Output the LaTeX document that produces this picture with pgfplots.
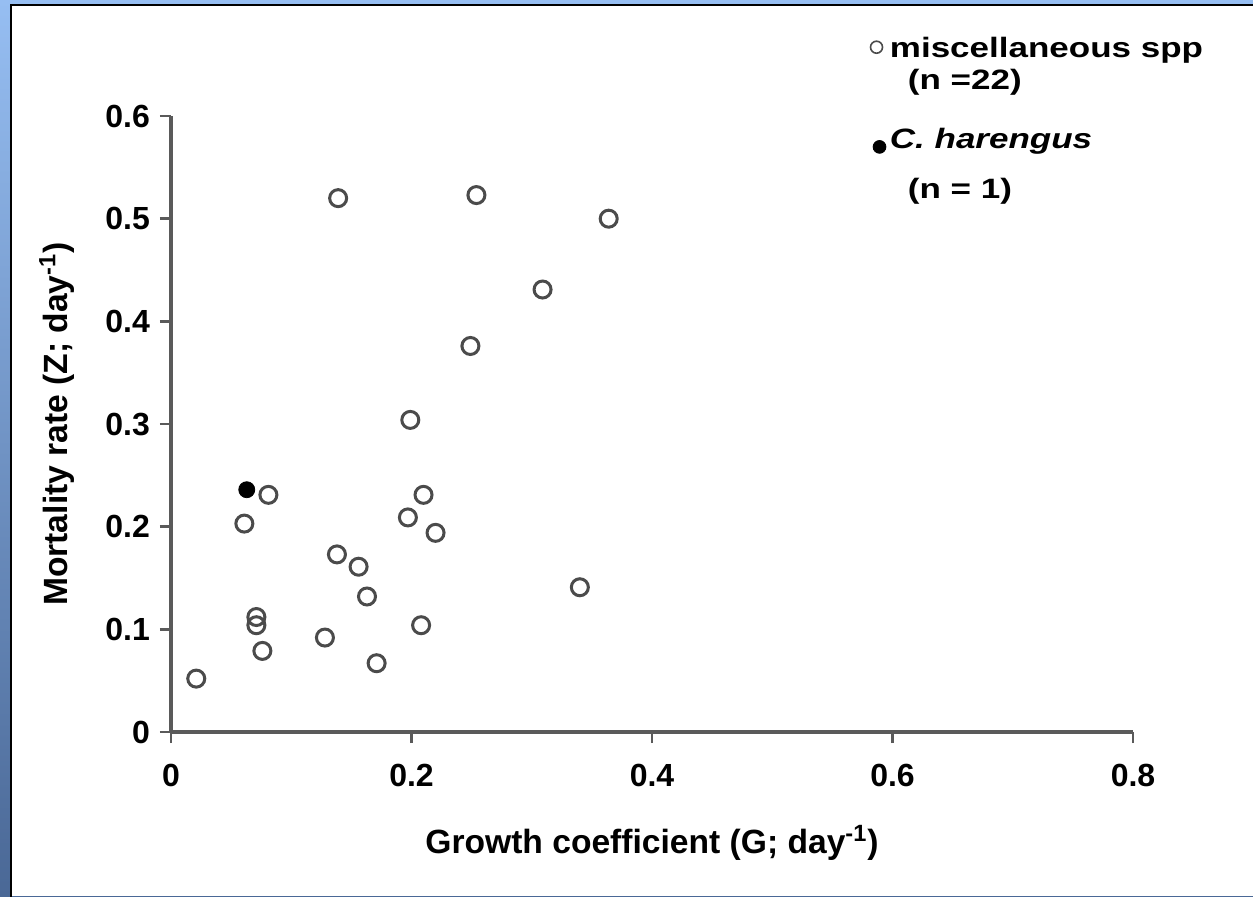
\documentclass[border=0pt]{standalone}
\usepackage{fontspec}
\setmainfont{Liberation Sans}
\newfontfamily\legfont{Liberation Sans}[FakeStretch=1.25]
\usepackage{pgfplots}
\pgfplotsset{compat=1.18}
\definecolor{axgray}{RGB}{90,90,90}
\definecolor{mkgray}{RGB}{75,75,75}
\definecolor{bluetop}{RGB}{150,190,242}
\definecolor{bluebot}{RGB}{74,104,150}
\begin{document}
\begin{tikzpicture}
\path[use as bounding box] (0pt,0pt) rectangle (626.5pt,448pt);
\shade[top color=bluetop, bottom color=bluebot] (0pt,0pt) rectangle (626.5pt,448pt);
\fill[white] (5.5pt,0pt) rectangle (626.5pt,445.5pt);
\draw[black, line width=1pt] (5.5pt,-1pt) -- (5.5pt,445.5pt) -- (627pt,445.5pt);
\begin{axis}[
  at={(85.5pt,82pt)}, anchor=south west,
  scale only axis, width=481pt, height=308pt,
  xmin=0, xmax=0.8, ymin=0, ymax=0.6,
  axis x line*=bottom, axis y line*=left,
  axis line style={axgray, line width=1.7pt},
  xtick={0,0.2,0.4,0.6,0.8},
  ytick={0,0.1,0.2,0.3,0.4,0.5,0.6},
  tick align=outside, major tick length=5.5pt,
  tick style={axgray, line width=1.2pt},
  /pgf/number format/.cd, fixed, precision=1, assume math mode=true, /pgfplots/.cd,
  every tick label/.append style={font=\bfseries\fontsize{16}{19}\selectfont},
  xticklabel style={yshift=-7pt},
  yticklabel style={xshift=-1.5pt},
  xlabel={Growth coefficient (G; day\textsuperscript{-1})},
  ylabel={Mortality rate (Z; day\textsuperscript{-1})},
  label style={font=\bfseries\fontsize{16.8}{19}\selectfont},
  xlabel style={at={(axis description cs:0.5,-0.180)}, anchor=center},
  ylabel style={at={(axis description cs:-0.1185,0.5)}, anchor=center},
  clip=false,
  legend style={at={(rel axis cs:0.7205,1.145)}, anchor=north west, draw=none, fill=none,
    font=\legfont\bfseries\fontsize{14}{16}\selectfont, cells={anchor=west}, row sep=20.5pt,
    /tikz/column 2/.style={column sep=8.5pt}},
]
\addplot[only marks, mark=o, mark size=4.25pt, mkgray, line width=1.5pt,
  legend image post style={mark size=3pt, line width=0.8pt, yshift=4.5pt}]
  table[row sep=\\]{
x y\\
0.021 0.052\\
0.061 0.203\\
0.081 0.231\\
0.071 0.112\\
0.071 0.104\\
0.076 0.079\\
0.128 0.092\\
0.138 0.173\\
0.156 0.161\\
0.163 0.132\\
0.171 0.067\\
0.139 0.520\\
0.197 0.209\\
0.210 0.231\\
0.220 0.194\\
0.208 0.104\\
0.199 0.304\\
0.249 0.376\\
0.254 0.523\\
0.309 0.431\\
0.340 0.141\\
0.364 0.500\\
};
\addlegendentry{\begin{tabular}{@{}l@{}}miscellaneous spp\\\hspace{9pt}(n =22)\end{tabular}}
\addplot[only marks, mark=*, mark size=4pt, black,
  legend image post style={mark size=3.2pt, yshift=2.5pt, xshift=1.5pt}]
  table[row sep=\\]{
x y\\
0.063 0.236\\
};
\addlegendentry{\begin{tabular}{@{}l@{}}\textit{C. harengus}\\[9pt]\hspace{9pt}(n = 1)\end{tabular}}
\end{axis}
\end{tikzpicture}
\end{document}
